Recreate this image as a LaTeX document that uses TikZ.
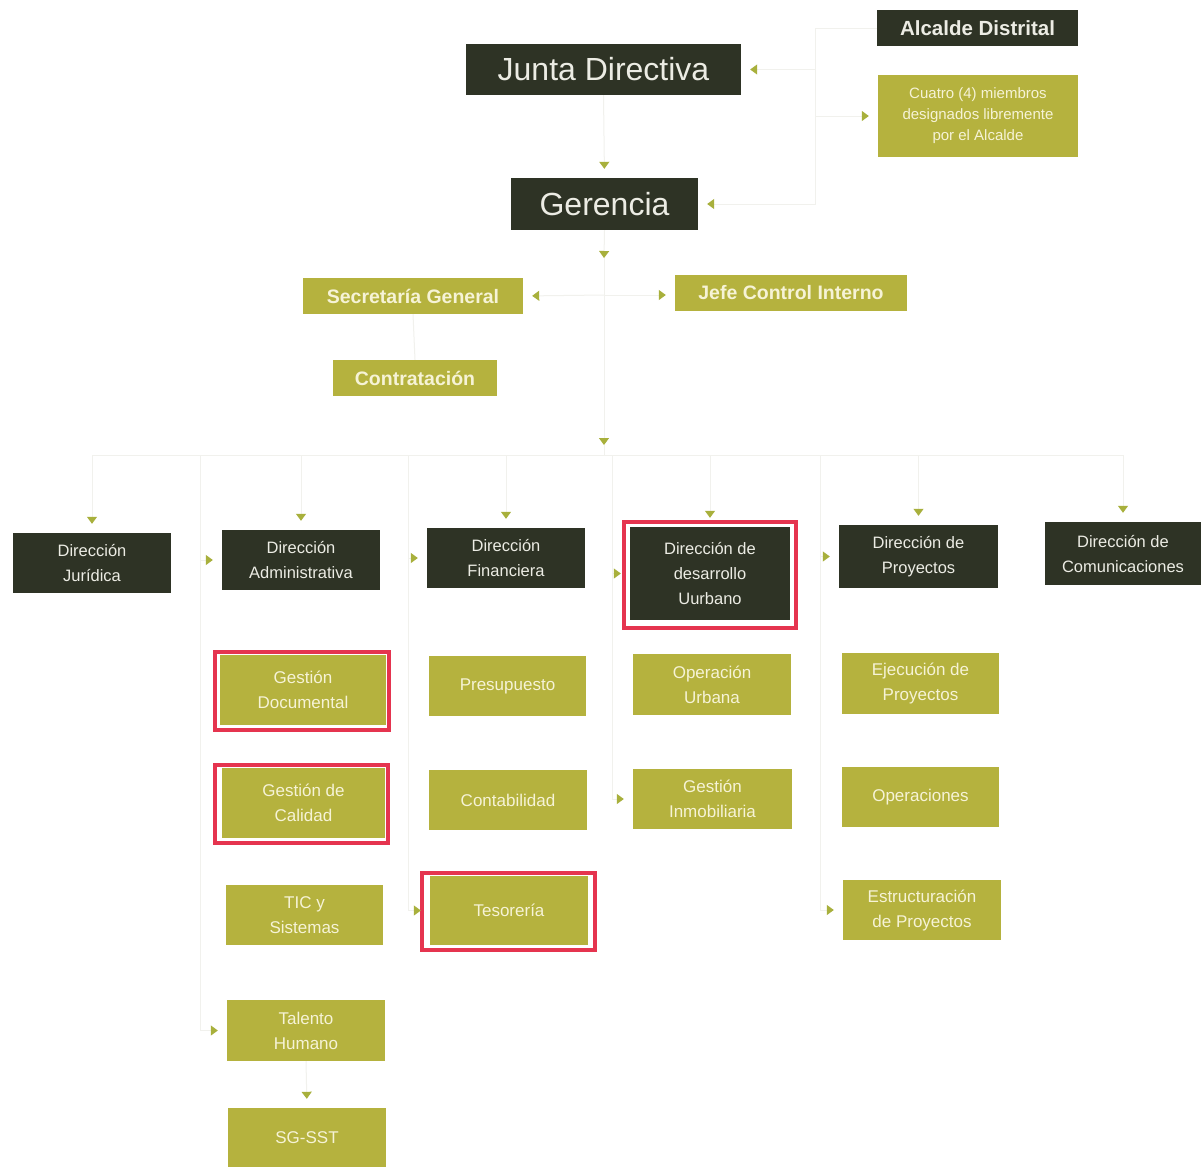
\documentclass[tikz,border=0pt]{standalone}
\usepackage{fontspec}
\setmainfont{Liberation Sans}
\usetikzlibrary{arrows.meta,calc}
\definecolor{darkbox}{HTML}{2E3325}
\definecolor{olivebox}{HTML}{B5B23E}
\definecolor{tipc}{HTML}{A8B03C}
\definecolor{redf}{HTML}{E5344F}
\definecolor{lightt}{HTML}{F6F3D6}
\definecolor{darkt}{HTML}{ECECE4}
\definecolor{linec}{HTML}{F1F1ED}
\begin{document}
\begin{tikzpicture}[x=1pt,y=-1pt,
  box/.style={inner sep=0pt, align=center, anchor=center},
  sz/.style 2 args={minimum width=#1pt, minimum height=#2pt},
  dbox/.style={box, fill=darkbox, text=darkt},
  obox/.style={box, fill=olivebox, text=lightt},
  bigf/.style={font=\fontsize{32}{38}\selectfont},
  midf/.style={font=\fontsize{19.5}{24}\selectfont\bfseries},
  dirf/.style={font=\fontsize{16.5}{25}\selectfont},
  subf/.style={font=\fontsize{17}{25}\selectfont},
  smallf/.style={font=\fontsize{15}{21}\selectfont},
  conn/.style={draw=linec, line width=1pt, -{Triangle[length=7pt,width=10pt,fill=tipc,color=tipc]}, shorten >=9pt},
  plainc/.style={draw=linec, line width=1pt},
  redframe/.style={draw=redf, line width=3.5pt}
]
\fill[white] (0,0) rectangle (1202,1167);
\useasboundingbox (0,0) rectangle (1202,1167);

% top
\node[dbox,bigf,sz={275}{51}] (junta) at (603.5,69.5) {Junta Directiva};
\node[dbox,font=\fontsize{20.5}{24}\selectfont\bfseries,sz={201}{36}] (alcalde) at (977.5,28) {Alcalde Distrital};
\node[obox,smallf,sz={200}{82}] (cuatro) at (978,116) {Cuatro (4) miembros\\designados libremente\\por el Alcalde};
\node[dbox,bigf,sz={187}{52}] (gerencia) at (604.5,204) {Gerencia};
\node[obox,midf,sz={220}{36}] (secre) at (413,296) {Secretaría General};
\node[obox,midf,sz={232}{36}] (jefe) at (791,293) {Jefe Control Interno};
\node[obox,midf,sz={164}{36}] (contra) at (415,378) {Contratación};

% direcciones
\node[dbox,dirf,sz={158}{60}] (jur) at (92,563) {Dirección\\Jurídica};
\node[dbox,dirf,sz={158}{60}] (adm) at (301,560) {Dirección\\Administrativa};
\node[dbox,dirf,sz={158}{60}] (fin) at (506,558) {Dirección\\Financiera};
\node[dbox,dirf,sz={160}{93}] (ddu) at (710,573.5) {Dirección de\\desarrollo\\Uurbano};
\node[dbox,dirf,sz={159}{63}] (proy) at (918.5,556.5) {Dirección de\\Proyectos};
\node[dbox,dirf,sz={156}{63}] (com) at (1123,553.5) {Dirección de\\Comunicaciones};

% sub boxes
\node[obox,subf,sz={166}{70}] (gdoc) at (303,690) {Gestión\\Documental};
\node[obox,subf,sz={163}{70}] (gcal) at (303.5,803) {Gestión de\\Calidad};
\node[obox,subf,sz={157}{60}] (tic) at (304.5,915) {TIC y\\Sistemas};
\node[obox,subf,sz={158}{61}] (tal) at (306,1030.5) {Talento\\Humano};
\node[obox,subf,sz={158}{59}] (sst) at (307,1137.5) {SG-SST};
\node[obox,subf,sz={157}{60}] (presu) at (507.5,686) {Presupuesto};
\node[obox,subf,sz={158}{60}] (conta) at (508,800) {Contabilidad};
\node[obox,subf,sz={158}{69}] (teso) at (509,910.5) {Tesorería};
\node[obox,subf,sz={158}{61}] (opu) at (712,684.5) {Operación\\Urbana};
\node[obox,subf,sz={159}{60}] (ginm) at (712.5,799) {Gestión\\Inmobiliaria};
\node[obox,subf,sz={157}{61}] (ejec) at (920.5,683.5) {Ejecución de\\Proyectos};
\node[obox,subf,sz={157}{60}] (oper) at (920.5,797) {Operaciones};
\node[obox,subf,sz={158}{60}] (estr) at (922,910) {Estructuración\\de Proyectos};

% red frames
\draw[redframe] ($(ddu.north west)+(-6,-5)$) rectangle ($(ddu.south east)+(6,8)$);
\draw[redframe] ($(gdoc.north west)+(-5,-3)$) rectangle ($(gdoc.south east)+(3,5)$);
\draw[redframe] ($(gcal.north west)+(-7,-3)$) rectangle ($(gcal.south east)+(3,5)$);
\draw[redframe] ($(teso.north west)+(-8,-3)$) rectangle ($(teso.south east)+(7,5)$);

% coordinates for routing
\coordinate (ra) at (815,28);
\coordinate (g1) at (604,258);
\coordinate (hub) at (604,295);
\coordinate (h2) at (604,445);
\coordinate (bus) at (604,455);
\coordinate (vA) at (200,455);
\coordinate (vF) at (408,455);
\coordinate (vD) at (612,455);
\coordinate (vP) at (820,455);

% connectors
\draw[plainc] (alcalde.west) -- (ra);
\draw[conn] (ra) |- (junta.east);
\draw[conn] (ra) |- (cuatro.west);
\draw[conn] (ra) |- (gerencia.east);
\draw[conn] (junta.south) -- (gerencia.north);
\draw[conn,shorten >=0pt] (gerencia.south) -- (g1);
\draw[plainc] (g1) -- (hub);
\draw[conn] (hub) -- (secre.east);
\draw[conn] (hub) -- (jefe.west |- hub);
\draw[plainc] (secre.south) -- (contra.north);
\draw[conn,shorten >=0pt] (hub) -- (h2);
\draw[plainc] (h2) -- (bus);
\draw[conn] (bus) -| (jur.north);
\draw[conn] (bus) -| (adm.north);
\draw[conn] (bus) -| (fin.north);
\draw[conn] (bus) -| (ddu.north);
\draw[conn] (bus) -| (proy.north);
\draw[conn] (bus) -| (com.north);
\draw[conn] (vA) |- (adm.west);
\draw[conn] (vA) |- (tal.west);
\draw[conn] (vF) |- (fin.west);
\draw[conn] (vF) |- (teso.west);
\draw[conn] (vD) |- (ddu.west);
\draw[conn] (vD) |- (ginm.west);
\draw[conn] (vP) |- (proy.west);
\draw[conn] (vP) |- (estr.west);
\draw[conn] (tal.south) -- (sst.north);
\end{tikzpicture}
\end{document}
